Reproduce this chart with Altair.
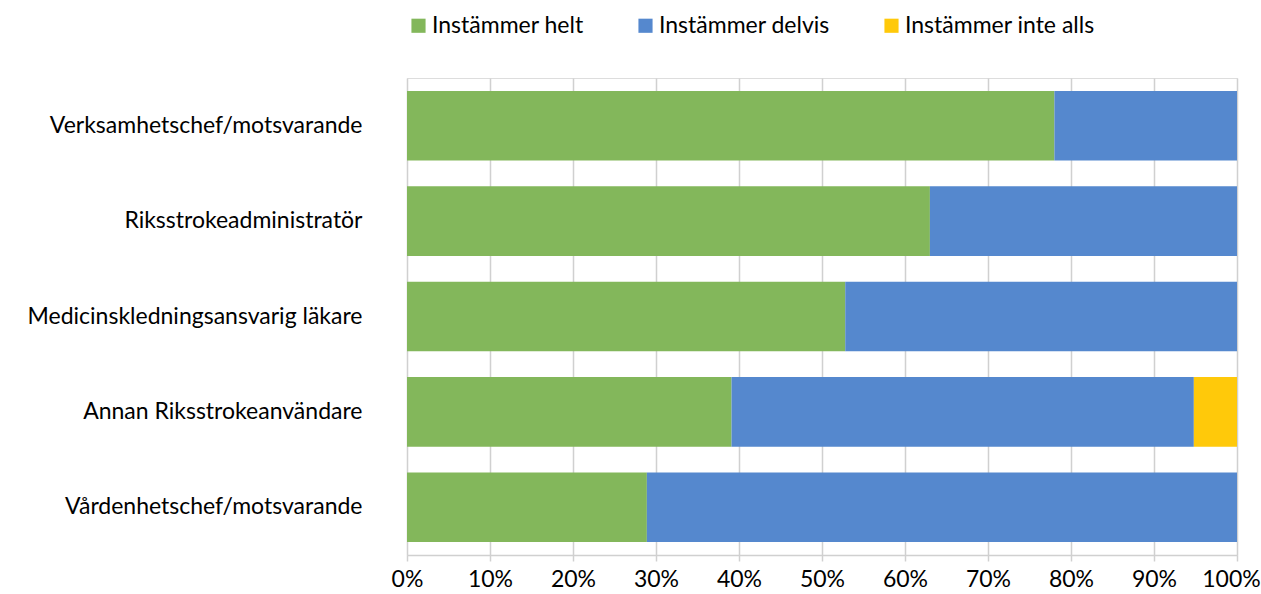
import altair as alt
import pandas as pd

# Survey answers per role, share of respondents (%)
categories = [
    "Verksamhetschef/motsvarande",
    "Riksstrokeadministratör",
    "Medicinskledningsansvarig läkare",
    "Annan Riksstrokeanvändare",
    "Vårdenhetschef/motsvarande",
]
helt = [78.0, 63.0, 52.8, 39.1, 28.9]
delvis = [22.0, 37.0, 47.2, 55.7, 71.1]
inte_alls = [0.0, 0.0, 0.0, 5.2, 0.0]

series = ["Instämmer helt", "Instämmer delvis", "Instämmer inte alls"]
colors = ["#83B75B", "#5588CE", "#FFC90A"]

rows = []
for i, cat in enumerate(categories):
    for k, vals in enumerate([helt, delvis, inte_alls]):
        rows.append({"roll": cat, "svar": series[k], "ordning": k, "andel": vals[i]})
df = pd.DataFrame(rows)

FONT = "Lato"

chart = (
    alt.Chart(df)
    .mark_bar()
    .encode(
        y=alt.Y(
            "roll:N",
            sort=categories,
            scale=alt.Scale(paddingInner=0.27, paddingOuter=0.135),
            axis=alt.Axis(
                title=None,
                domain=False,
                ticks=False,
                labelPadding=45,
                labelFontSize=23,
                labelFont=FONT,
                labelColor="#000000",
                labelLimit=400,
            ),
        ),
        x=alt.X(
            "andel:Q",
            stack="zero",
            scale=alt.Scale(domain=[0, 100], nice=False),
            axis=alt.Axis(
                title=None,
                values=list(range(0, 101, 10)),
                labelExpr="datum.value + '%'",
                labelFlush=False,
                labelOverlap=False,
                # keep the last label inside the right edge
                labelOffset={"condition": {"test": "datum.value == 100", "value": -6}, "value": 0},
                grid=True,
                gridColor="#D0D0D0",
                gridWidth=1.5,
                domainColor="#D0D0D0",
                domainWidth=1.5,
                tickColor="#D0D0D0",
                tickWidth=1.5,
                tickSize=6,
                labelPadding=7,
                labelFontSize=23,
                labelFont=FONT,
                labelColor="#000000",
            ),
        ),
        color=alt.Color(
            "svar:N",
            scale=alt.Scale(domain=series, range=colors),
            legend=alt.Legend(
                title=None,
                orient="none",
                direction="horizontal",
                legendX=0,
                legendY=-64,
                symbolType="square",
                symbolSize=200,
                symbolStrokeWidth=0,
                symbolOpacity=1,
                labelFontSize=23,
                labelFont=FONT,
                labelColor="#000000",
                labelOffset=2,
                columnPadding=50,
                labelLimit=300,
            ),
        ),
        order=alt.Order("ordning:Q", sort="ascending"),
    )
    .properties(
        width=830,
        height=477,
        padding={"left": 407, "top": 78, "right": 24, "bottom": 39},
        autosize=alt.AutoSizeParams(type="none"),
    )
    .configure_view(stroke=None)
    .configure(background="#FFFFFF")
)

chart.save("out.html", embed_options={"renderer": "svg", "actions": False})
